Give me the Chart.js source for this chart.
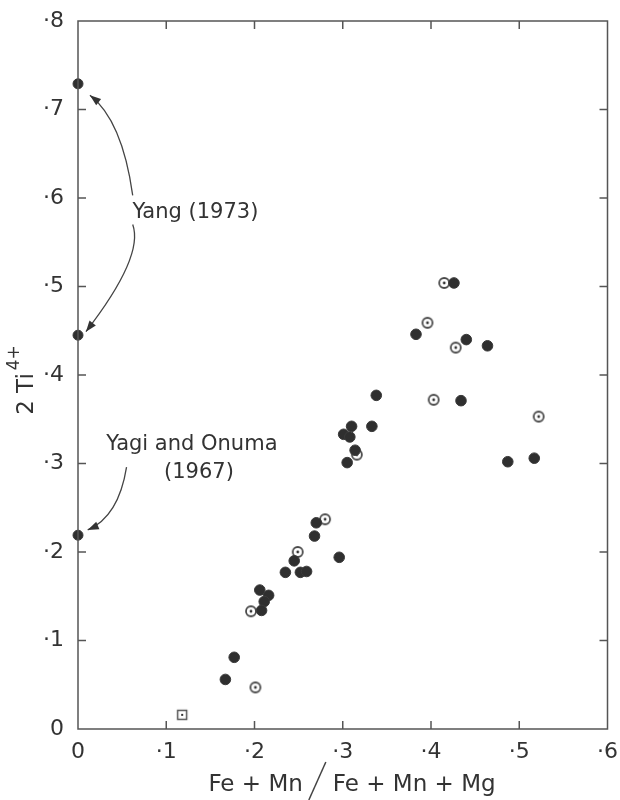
<!DOCTYPE html>
<html>
<head>
<meta charset="utf-8">
<script src="https://cdn.jsdelivr.net/npm/chart.js@4.4.0/dist/chart.umd.min.js"></script>
<style>
  html, body { margin: 0; padding: 0; background: #fff; }
  #wrap { width: 620px; height: 800px; }
</style>
</head>
<body>
<div id="wrap"><canvas id="tiChart"></canvas></div>
<script>
// analyses: filled dots
const solidX = [0.167, 0.177, 0.206, 0.216, 0.211, 0.208, 0.235, 0.252, 0.259, 0.245, 0.296,
                0.270, 0.268, 0.310, 0.301, 0.308, 0.333, 0.314, 0.305, 0.338,
                0.383, 0.426, 0.440, 0.464, 0.434, 0.487, 0.517];
const solidY = [0.056, 0.081, 0.157, 0.151, 0.144, 0.134, 0.177, 0.177, 0.178, 0.190, 0.194,
                0.233, 0.218, 0.342, 0.333, 0.330, 0.342, 0.315, 0.301, 0.377,
                0.446, 0.504, 0.440, 0.433, 0.371, 0.302, 0.306];
// analyses: dotted circles
const ringX = [0.201, 0.196, 0.249, 0.280, 0.316, 0.415, 0.396, 0.428, 0.403, 0.522];
const ringY = [0.047, 0.133, 0.200, 0.237, 0.310, 0.504, 0.459, 0.431, 0.372, 0.353];
// dotted square
const squareX = [0.118];
const squareY = [0.016];
// literature values on the y axis (Yang 1973, Yagi and Onuma 1967)
const litX = [0, 0, 0];
const litY = [0.729, 0.445, 0.219];

const xTickLabels = ['0', '·1', '·2', '·3', '·4', '·5', '·6'];
const yTickLabels = ['0', '·1', '·2', '·3', '·4', '·5', '·6', '·7', '·8'];

const ink = '#333';
const tickFont = { family: 'DejaVu Sans', size: 22 };

function toPoints(xs, ys) {
    return xs.map(function (x, i) { return { x: x, y: ys[i] }; });
}

// marker images
function ringMarker() {
    const c = document.createElement('canvas');
    c.width = 14; c.height = 14;
    const g = c.getContext('2d');
    g.beginPath();
    g.arc(7, 7, 5, 0, Math.PI * 2);
    g.fillStyle = '#fff';
    g.fill();
    g.lineWidth = 1.8;
    g.strokeStyle = '#4a4a4a';
    g.stroke();
    g.beginPath();
    g.arc(7, 7, 1.4, 0, Math.PI * 2);
    g.fillStyle = ink;
    g.fill();
    return c;
}

function squareMarker() {
    const c = document.createElement('canvas');
    c.width = 14; c.height = 14;
    const g = c.getContext('2d');
    g.fillStyle = '#fff';
    g.fillRect(2, 2, 10, 10);
    g.lineWidth = 1.5;
    g.strokeStyle = '#555';
    g.strokeRect(2.5, 2.5, 9, 9);
    g.fillStyle = ink;
    g.fillRect(6, 6, 2, 2);
    return c;
}

// annotation texts and arrows, in data units
const notes = [
    { text: 'Yang (1973)', x: 0.133, y: 0.584 },
    { text: 'Yagi and Onuma', x: 0.129, y: 0.321 },
    { text: '(1967)', x: 0.137, y: 0.290 }
];
const arrows = [
    { from: [0.062, 0.603], ctrl: [0.050, 0.688], to: [0.0135, 0.716] },
    { from: [0.062, 0.570], ctrl: [0.075, 0.534], to: [0.009, 0.449] },
    { from: [0.055, 0.296], ctrl: [0.046, 0.240], to: [0.011, 0.225] }
];

const framePlugin = {
    id: 'frame',
    afterDraw: function (chart) {
        const ctx = chart.ctx;
        const a = chart.chartArea;
        const xs = chart.scales.x;
        const ys = chart.scales.y;
        ctx.save();
        ctx.strokeStyle = '#555';
        ctx.lineWidth = 1.5;
        ctx.strokeRect(a.left, a.top, a.right - a.left, a.bottom - a.top);

        // inward ticks on all four sides
        ctx.beginPath();
        xs.ticks.forEach(function (t) {
            if (t.value <= 0 || t.value >= 0.6) return;
            const px = xs.getPixelForValue(t.value);
            ctx.moveTo(px, a.bottom); ctx.lineTo(px, a.bottom - 8);
            ctx.moveTo(px, a.top); ctx.lineTo(px, a.top + 8);
        });
        ys.ticks.forEach(function (t) {
            if (t.value <= 0 || t.value >= 0.8) return;
            const py = ys.getPixelForValue(t.value);
            ctx.moveTo(a.left, py); ctx.lineTo(a.left + 8, py);
            ctx.moveTo(a.right, py); ctx.lineTo(a.right - 8, py);
        });
        ctx.stroke();

        // annotations
        ctx.fillStyle = ink;
        ctx.font = '21px "DejaVu Sans"';
        ctx.textAlign = 'center';
        ctx.textBaseline = 'middle';
        notes.forEach(function (n) {
            ctx.fillText(n.text, xs.getPixelForValue(n.x), ys.getPixelForValue(n.y));
        });

        ctx.strokeStyle = '#444';
        ctx.lineWidth = 1.3;
        arrows.forEach(function (ar) {
            const p0 = [xs.getPixelForValue(ar.from[0]), ys.getPixelForValue(ar.from[1])];
            const c = [xs.getPixelForValue(ar.ctrl[0]), ys.getPixelForValue(ar.ctrl[1])];
            const p1 = [xs.getPixelForValue(ar.to[0]), ys.getPixelForValue(ar.to[1])];
            ctx.beginPath();
            ctx.moveTo(p0[0], p0[1]);
            ctx.quadraticCurveTo(c[0], c[1], p1[0], p1[1]);
            ctx.stroke();
            const ang = Math.atan2(p1[1] - c[1], p1[0] - c[0]);
            ctx.beginPath();
            ctx.moveTo(p1[0], p1[1]);
            ctx.lineTo(p1[0] - 11 * Math.cos(ang) + 4 * Math.sin(ang), p1[1] - 11 * Math.sin(ang) - 4 * Math.cos(ang));
            ctx.lineTo(p1[0] - 11 * Math.cos(ang) - 4 * Math.sin(ang), p1[1] - 11 * Math.sin(ang) + 4 * Math.cos(ang));
            ctx.closePath();
            ctx.fillStyle = '#333';
            ctx.fill();
        });

        // y axis title: 2 Ti4+
        ctx.save();
        ctx.translate(25, (a.top + a.bottom) / 2 + 5);
        ctx.rotate(-Math.PI / 2);
        ctx.textAlign = 'left';
        ctx.textBaseline = 'alphabetic';
        ctx.font = '23px "DejaVu Sans"';
        const main = '2 Ti';
        const wMain = ctx.measureText(main).width;
        ctx.font = '17px "DejaVu Sans"';
        const wSup = ctx.measureText('4+').width;
        const start = -(wMain + 3 + wSup) / 2;
        ctx.font = '23px "DejaVu Sans"';
        ctx.fillText(main, start, 8);
        ctx.font = '17px "DejaVu Sans"';
        ctx.fillText('4+', start + wMain + 3, -6);
        ctx.restore();

        // x axis title with a tall slash
        ctx.font = '23px "DejaVu Sans"';
        ctx.textBaseline = 'alphabetic';
        const left = 'Fe + Mn';
        const right = 'Fe + Mn + Mg';
        const wl = ctx.measureText(left).width;
        const wr = ctx.measureText(right).width;
        const total = wl + 30 + wr;
        const x0 = 352 - total / 2;
        const base = 791;
        ctx.textAlign = 'left';
        ctx.fillText(left, x0, base);
        ctx.fillText(right, x0 + wl + 30, base);
        ctx.beginPath();
        ctx.lineWidth = 1.5;
        ctx.strokeStyle = '#444';
        ctx.moveTo(x0 + wl + 6, 800);
        ctx.lineTo(x0 + wl + 23, 762);
        ctx.stroke();
        ctx.restore();
    }
};

new Chart(document.getElementById('tiChart').getContext('2d'), {
    type: 'scatter',
    data: {
        datasets: [
            {
                label: 'filled',
                data: toPoints(solidX, solidY),
                pointRadius: 5.3,
                backgroundColor: '#2f2f2f',
                borderColor: '#3a3a3a',
                borderWidth: 1
            },
            {
                label: 'dotted',
                data: toPoints(ringX, ringY),
                pointStyle: ringMarker(),
                pointRadius: 7
            },
            {
                label: 'square',
                data: toPoints(squareX, squareY),
                pointStyle: squareMarker(),
                pointRadius: 7
            },
            {
                label: 'literature',
                data: toPoints(litX, litY),
                pointRadius: 5,
                backgroundColor: '#2f2f2f',
                borderColor: '#3a3a3a',
                borderWidth: 1,
                clip: false
            }
        ]
    },
    options: {
        responsive: true,
        maintainAspectRatio: false,
        animation: false,
        layout: { padding: { top: 21, right: 8, left: 0, bottom: 0 } },
        scales: {
            x: {
                type: 'linear',
                min: 0,
                max: 0.6,
                afterFit: function (s) { s.height = 71; },
                afterBuildTicks: function (s) {
                    s.ticks = xTickLabels.map(function (l, i) { return { value: i / 10 }; });
                },
                grid: { display: false },
                border: { display: false },
                ticks: {
                    padding: 2,
                    color: ink,
                    font: tickFont,
                    maxRotation: 0,
                    callback: function (v, i) { return xTickLabels[i]; }
                }
            },
            y: {
                type: 'linear',
                min: 0,
                max: 0.8,
                afterFit: function (s) { s.width = 78; },
                afterBuildTicks: function (s) {
                    s.ticks = yTickLabels.map(function (l, i) { return { value: i / 10 }; });
                },
                grid: { display: false },
                border: { display: false },
                ticks: {
                    padding: 6,
                    color: ink,
                    font: tickFont,
                    callback: function (v, i) { return yTickLabels[i]; }
                }
            }
        },
        plugins: {
            legend: { display: false },
            tooltip: { enabled: false }
        }
    },
    plugins: [framePlugin]
});
</script>
</body>
</html>
